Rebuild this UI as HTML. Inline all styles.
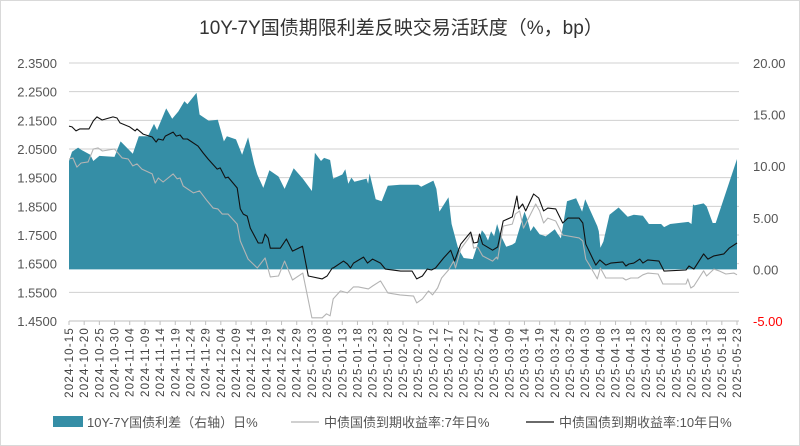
<!DOCTYPE html>
<html><head><meta charset="utf-8">
<style>
html,body{margin:0;padding:0;background:#fff;}
#wrap{position:relative;width:798px;height:444px;border:1px solid #d9d9d9;overflow:hidden;}
svg{display:block;font-family:"Liberation Sans","Noto Sans CJK SC",sans-serif;}
</style></head>
<body>
<div id="wrap">
<svg id="chart" width="798" height="444"></svg>
</div>
<script>
// ---- data ----
const startDate = new Date(2024, 9, 15);
const tickCount = 45; // labels every 5 days
const leftTicks = ["2.3500","2.2500","2.1500","2.0500","1.9500","1.8500","1.7500","1.6500","1.5500","1.4500"];
const rightTicks = ["20.00","15.00","10.00","5.00","0.00","-5.00"];
// spread (bp, right axis): day offsets and values
const spreadDays = [0,1,3,4,7,8,10,15,17,21,23,26,28,29,32,34,36,38,39,42,43,46,49,51,52,55,57,59,61,62,64,66,69,71,74,77,80,81,83,84,86,87,90,91,92,93,94,98,98.5,99,101,103,105,109,115,116,120,121,122,125,126,128,129,130,133,134,136,137,138,139,140,141,142,144,146,147,150,151,152,153,155,157,160,161,162,164,167,169,170,174,174.5,175,176,178,181,184,186,189,191,195,196,198,204,205,205.5,206,209,210,212,213,220];
const spreadVals = [10.5,11.4,11.8,11.6,11.1,10.5,11.0,10.9,12.4,11.2,12.9,12.9,14.1,13.5,15.6,14.6,15.3,16.3,16.0,17.1,15.0,14.4,14.5,12.4,12.9,12.6,11.1,12.8,10.2,9.2,7.9,9.6,9.0,7.8,9.8,8.8,7.6,11.3,10.5,10.8,10.6,8.8,9.2,9.7,8.3,8.9,8.5,8.8,8.3,9.3,6.8,6.6,8.1,8.2,8.2,8.0,8.6,7.8,5.6,7.0,4.4,2.2,1.6,1.1,1.0,1.9,3.8,3.4,2.8,3.7,3.2,4.4,3.4,2.2,2.4,2.6,5.6,4.8,3.7,4.2,3.4,3.2,3.9,3.4,3.0,6.6,6.9,5.6,6.8,4.2,3.7,2.1,2.7,5.3,6.0,5.1,5.3,5.2,4.4,4.4,4.1,4.4,4.6,4.4,6.3,6.2,6.4,6.1,4.5,4.5,10.7];
// 7Y yield (left axis)
const y7Days = [0,1.3,2.6,4,6.3,8,9.6,11,15,17.5,19.5,21,22.4,24,27.4,28.4,29.4,31,34.3,35.6,36.6,37.6,41,43,45.5,47.5,49,50.5,52.4,55.4,56.4,59,62,64.6,66.3,69,71,73.6,77,80,83.4,84.8,86,87,89.4,91.7,93.7,95.3,98.6,100,102.6,105,109,113.5,114.5,116.4,118.4,119.7,121.4,122.7,125,126.7,127.3,129,131.6,132.3,133.3,134.6,136.2,139.5,140.8,141.2,143,146,147,148.4,149.7,151.7,153.7,155,156.3,157.7,160.3,162.6,168,169.2,170.2,171.2,174,175,176.8,179.4,182.4,183.4,185,187.4,189,190.6,194,195.6,198.2,203.2,203.8,204.8,205.8,209,210,212.4,214,216.3,219,220];
const y7Vals = [2.015,2.019,1.987,2.001,2.005,2.050,2.054,2.043,2.050,2.019,2.015,1.991,1.998,1.980,1.963,1.931,1.949,1.935,1.963,1.946,1.949,1.921,1.897,1.904,1.869,1.844,1.841,1.823,1.823,1.788,1.729,1.666,1.635,1.670,1.604,1.607,1.659,1.593,1.617,1.461,1.461,1.475,1.468,1.527,1.555,1.548,1.569,1.569,1.562,1.572,1.590,1.548,1.541,1.537,1.513,1.527,1.555,1.541,1.565,1.600,1.628,1.659,1.635,1.701,1.739,1.753,1.704,1.708,1.677,1.659,1.673,1.666,1.781,1.788,1.823,1.834,1.774,1.816,1.858,1.834,1.792,1.809,1.799,1.750,1.740,1.729,1.666,1.649,1.597,1.635,1.600,1.600,1.600,1.593,1.600,1.600,1.611,1.617,1.614,1.579,1.579,1.579,1.597,1.565,1.572,1.625,1.607,1.631,1.625,1.614,1.617,1.611];
// 10Y yield (left axis)
const y10Days = [0,1,2.3,3.6,6.6,8,9.2,10.9,14.5,15.8,16.8,20,21.8,22.4,24.4,27.4,28.7,29.4,31,31.7,34.3,35.3,36.6,37.6,39,42.5,44.2,45.8,48.8,49.8,51.5,52.4,55.4,56.4,57.4,58.7,59.7,62.3,63.7,64.6,65.6,66.3,69.6,71.6,73.6,76.9,78.8,83.4,85,86.7,87,90.4,91.7,92.7,93.7,97,98.3,100,102.6,104.2,109.2,113,114.5,116.4,118,119.4,120.7,123.4,125.7,127,129,132.3,133.3,134.6,135.2,136.2,139.5,141.2,143,146,147.5,148.1,149.4,150.4,153,154.7,156.3,157.7,160.3,162.6,164.3,168,169.2,170.2,173.5,174.8,176.8,178.4,182.4,183.4,184.4,186,188,189,190.6,194.3,196,203.2,204.2,205.8,209,210.4,212.4,215.7,217.4,220];
const y10Vals = [2.130,2.127,2.113,2.120,2.120,2.148,2.162,2.151,2.162,2.158,2.141,2.127,2.113,2.120,2.102,2.092,2.074,2.085,2.081,2.095,2.109,2.095,2.099,2.085,2.085,2.060,2.036,2.015,1.980,1.984,1.949,1.952,1.914,1.841,1.823,1.816,1.774,1.722,1.722,1.753,1.739,1.704,1.704,1.736,1.694,1.711,1.607,1.597,1.607,1.635,1.635,1.659,1.649,1.635,1.652,1.673,1.652,1.666,1.652,1.631,1.624,1.624,1.597,1.607,1.631,1.628,1.635,1.670,1.697,1.659,1.718,1.760,1.722,1.725,1.753,1.718,1.697,1.708,1.799,1.813,1.886,1.841,1.858,1.834,1.893,1.879,1.834,1.844,1.841,1.792,1.809,1.809,1.792,1.718,1.645,1.663,1.645,1.652,1.656,1.642,1.649,1.652,1.666,1.652,1.663,1.659,1.624,1.628,1.642,1.631,1.684,1.666,1.677,1.684,1.704,1.722];

// ---- layout ----
const svg = document.getElementById('chart');
const NS = 'http://www.w3.org/2000/svg';
const X0 = 68, X1 = 736, Y0 = 62, Y1 = 320;
const totalDays = 220;
function xs(d){ return X0 + (X1 - X0) * d / totalDays; }
function yl(v){ return Y1 - (v - 1.45) / (2.35 - 1.45) * (Y1 - Y0); }
function yr(v){ return Y1 - (v + 5) / 25 * (Y1 - Y0); }
function mk(tag, attrs, parent){ const e = document.createElementNS(NS, tag); for (const k in attrs) e.setAttribute(k, attrs[k]); (parent||svg).appendChild(e); return e; }

// title
const title = mk('text', {x:400, y:33, 'text-anchor':'middle', 'font-size':19, fill:'#333'});
title.textContent = '10Y-7Y国债期限利差反映交易活跃度（%，bp）';



// grid + left labels
leftTicks.forEach((t) => {
  const v = parseFloat(t); const y = yl(v);
  const g = mk('line', {x1:X0, x2:X1+2, y1:y, y2:y, stroke:'#d0d0d0', 'stroke-width':1});
  
  
  const tx = mk('text', {x:56, y:y+5, 'text-anchor':'end', 'font-size':13, fill:'#555'});
  tx.textContent = t;
  
  
});
rightTicks.forEach((t) => {
  const v = parseFloat(t); const y = yr(v);
  const tx = mk('text', {x:752, y:y+5, 'text-anchor':'start', 'font-size':13, fill: v < 0 ? '#ff0000' : '#555'});
  tx.textContent = t;
  
  
});

// spread area
let d = 'M' + xs(spreadDays[0]) + ',' + yr(0);
spreadDays.forEach((dd, i) => { d += ' L' + xs(dd).toFixed(1) + ',' + yr(spreadVals[i]).toFixed(1); });
d += ' L' + xs(spreadDays[spreadDays.length-1]) + ',' + yr(0) + ' Z';
const area = mk('path', {d:d, fill:'#358ea6'});



function line(days, vals, color, w, name){
  const pts = days.map((dd, i) => xs(dd).toFixed(1) + ',' + yl(vals[i]).toFixed(1)).join(' ');
  const p = mk('polyline', {points:pts, fill:'none', stroke:color, 'stroke-width':w, 'stroke-linejoin':'round'});
  
  
}
line(y7Days, y7Vals, '#b4b4b4', 1.1, 'yield-7y-line');
line(y10Days, y10Vals, '#111', 1.1, 'yield-10y-line');

// x axis
const ax = mk('line', {x1:X0, x2:X1+2, y1:Y1, y2:Y1, stroke:'#bfbfbf'});


for (let i = 0; i < tickCount; i++) {
  const x = xs(i * 5);
  mk('line', {x1:x, x2:x, y1:Y1, y2:Y1+4, stroke:'#bfbfbf'});
  const dt = new Date(startDate.getTime() + i * 5 * 86400000);
  const s = dt.getFullYear() + '-' + String(dt.getMonth()+1).padStart(2,'0') + '-' + String(dt.getDate()).padStart(2,'0');
  const tx = mk('text', {x:0, y:0, 'text-anchor':'end', 'font-size':11.5, fill:'#444', 'letter-spacing':'1.2',
    transform:'translate(' + (x+4).toFixed(1) + ',326) rotate(-90)'});
  tx.textContent = s;
  
  
}

// legend
const lg = mk('g', {});


const sw = mk('rect', {x:52, y:415, width:30, height:11, fill:'#358ea6'}, lg);


const t1 = mk('text', {x:86, y:426, 'font-size':13, fill:'#555'}, lg);
t1.textContent = '10Y-7Y国债利差（右轴）日%';


mk('line', {x1:290, x2:318, y1:421, y2:421, stroke:'#b4b4b4', 'stroke-width':1.2}, lg);
const t2 = mk('text', {x:323, y:426, 'font-size':13, fill:'#555'}, lg);
t2.textContent = '中债国债到期收益率:7年日%';


mk('line', {x1:525, x2:553, y1:421, y2:421, stroke:'#111', 'stroke-width':1.2}, lg);
const t3 = mk('text', {x:558, y:426, 'font-size':13, fill:'#555'}, lg);
t3.textContent = '中债国债到期收益率:10年日%';


</script>
</body></html>
